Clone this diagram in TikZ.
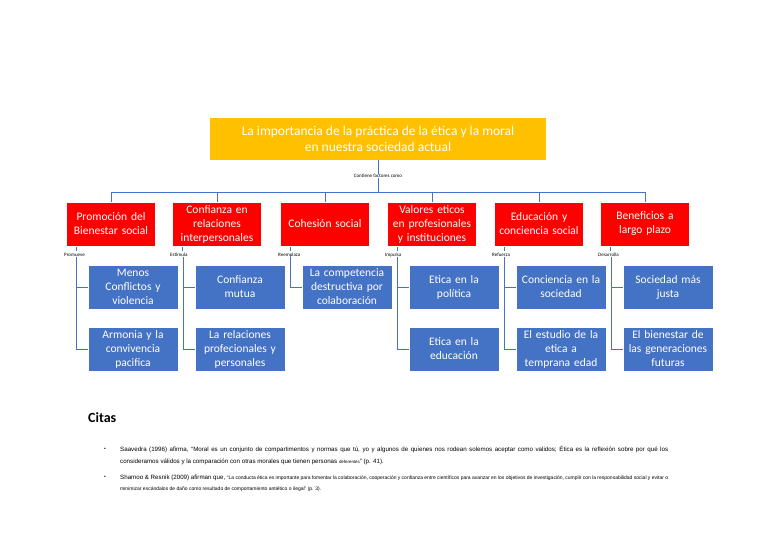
\documentclass[tikz,border=0pt]{standalone}
\usepackage{fontspec}
\setmainfont{Carlito}
\newfontfamily\citefont{Liberation Sans}
\begin{document}
\begin{tikzpicture}[x=1pt, y=-1pt,
    title/.style = {fill={rgb,255:red,255;green,192;blue,0}, text=white, minimum width=336pt, minimum height=42pt, align=center, font=\fontsize{13.5}{16}\selectfont, inner sep=0pt},
    cat/.style = {fill={rgb,255:red,255;green,0;blue,0}, text=white, minimum width=86pt, minimum height=43pt, text width=88pt, align=center, font=\fontsize{11.5}{14}\selectfont, inner sep=0pt},
    item/.style = {fill={rgb,255:red,68;green,114;blue,196}, text=white, minimum width=87pt, minimum height=43pt, text width=89pt, align=center, font=\fontsize{11.5}{14}\selectfont, inner sep=0pt},
    conn/.style = {draw={rgb,255:red,68;green,114;blue,196}, line width=0.8pt},
    tag/.style = {font=\fontsize{5}{6}\selectfont, anchor=west, inner sep=0pt},
  ]
  \useasboundingbox (0,0) rectangle (768,543);
  \node (T) at (378,139) [title] {La importancia de la práctica de la ética y la moral\\en nuestra sociedad actual};
  \node (F) at (378,176) [tag, anchor=center] {Contiene factores como};
  \draw[conn] (T.south) -- (F.north);
  \coordinate (bus) at (378,192);
  \draw[conn] (F.south) -- (bus);
  % categories
  \foreach \n/\x/\t/\v in {1/111/{Promoción del\\Bienestar social}/Promueve,
                           2/217/{Confianza en\\relaciones\\interpersonales}/Estimula,
                           3/325/{Cohesión social}/Reemplaza,
                           4/432/{Valores eticos\\en profesionales\\y instituciones}/Impulsa,
                           5/539/{Educación y\\conciencia social}/Refuerza,
                           6/645/{Beneficios a\\largo plazo}/Desarrolla} {
    \node (C\n) at (\x,224) [cat] {\t};
    \draw[conn] (C\n.north) -- ++(0,-10.5);
    \node (L\n) at (\x-47,255) [tag] {\v};
    \draw[conn] (\x-35,247) -- (\x-35,251);
  }
  \draw[conn] (111,192) -- (645,192);
  % items
  \foreach \n/\x/\t in {1/133/{Menos\\Conflictos y\\violencia}, 2/240/{Confianza\\mutua},
                        3/347/{La competencia\\destructiva por\\colaboración}, 4/454/{Etica en la\\política},
                        5/561/{Conciencia en la\\sociedad}, 6/668/{Sociedad más\\justa}} {
    \node (A\n) at (\x,287) [item] {\t};
    \draw[conn] (L\n.south -| {\x-57,0}) |- (A\n.west);
  }
  \foreach \n/\x/\t in {1/133/{Armonia y la\\convivencia\\pacifica}, 2/240/{La relaciones\\profecionales y\\personales},
                        4/454/{Etica en la\\educación}, 5/561/{El estudio de la\\etica a\\temprana edad},
                        6/668/{El bienestar de\\las generaciones\\futuras}} {
    \node (B\n) at (\x,349) [item] {\t};
    \draw[conn] (L\n.south -| {\x-57,0}) |- (B\n.west);
  }
  % citations
  \node (cit) at (88,418) [anchor=west, font=\bfseries\fontsize{14}{16}\selectfont, inner sep=0pt] {Citas};
  \node (q1) at (120,455) [anchor=west, text width=548pt, font=\citefont\fontsize{6.2}{12}\selectfont, inner sep=0pt, align=justify]
    {Saavedra (1996) afirma, “Moral es un conjunto de compartimentos y normas que tú, yo y algunos de quienes nos rodean solemos aceptar como validos; Ética es la reflexión sobre por qué los consideramos válidos y la comparación con otras morales que tienen personas {\fontsize{4.4}{5}\selectfont deferentes}” (p. 41).};
  \node (q2) at (120,483) [anchor=west, text width=548pt, font=\citefont\fontsize{6.2}{11}\selectfont, inner sep=0pt, align=justify]
    {Shamoo \& Resnik (2009) afirman que, {\fontsize{5}{11}\selectfont “La conducta ética es importante para fomentar la colaboración, cooperación y confianza entre científicos para avanzar en los objetivos de investigación, cumplir con la responsabilidad social y evitar o minimizar escándalos de daño como resultado de comportamiento antiético o ilegal” (p. 3).}};
  \node (d1) at (105,449) [font=\citefont\fontsize{5}{6}\selectfont] {•};
  \node (d2) at (105,477) [font=\citefont\fontsize{5}{6}\selectfont] {•};
\end{tikzpicture}
\end{document}
